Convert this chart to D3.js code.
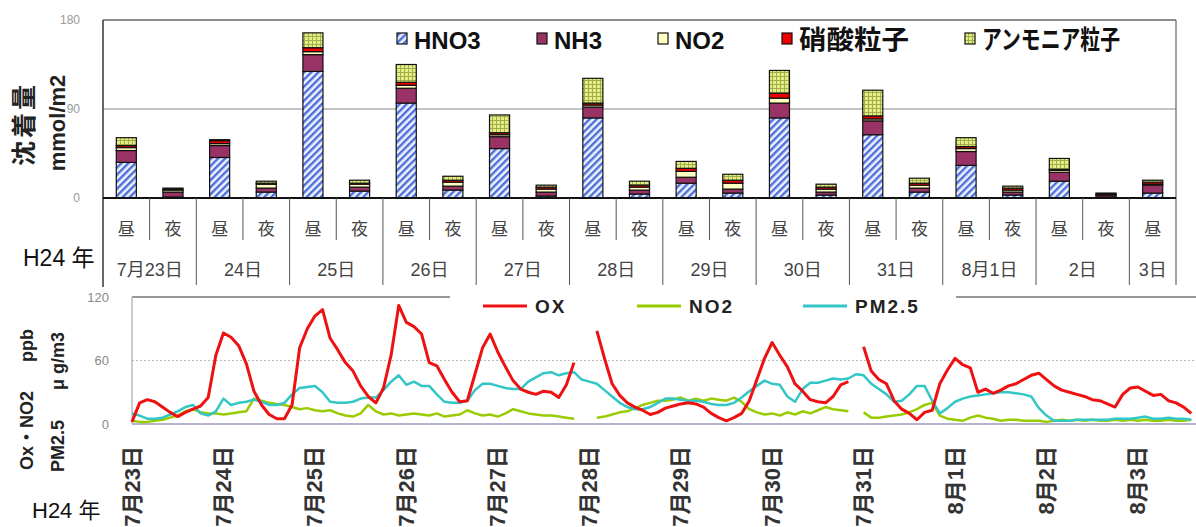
<!DOCTYPE html>
<html>
<head>
<meta charset="utf-8">
<script src="https://cdn.jsdelivr.net/npm/d3@7"></script>
<style>
body { margin: 0; background: #fff; }
svg { display: block; font-family: "Liberation Sans", "Noto Sans CJK JP", sans-serif; }
</style>
</head>
<body>
<svg id="chart" width="1196" height="527"></svg>
<script>
// ---- deposition (top chart) ----
var slots = ["昼","夜","昼","夜","昼","夜","昼","夜","昼","夜","昼","夜",
             "昼","夜","昼","夜","昼","夜","昼","夜","昼","夜","昼"];
var days = ["7月23日","24日","25日","26日","27日","28日","29日","30日","31日","8月1日","2日","3日"];
var depKeys = ["HNO3","NH3","NO2","硝酸粒子","アンモニア粒子"];
var hno3     = [36, 1, 41, 6, 128, 7, 96, 8, 50, 2, 81, 4, 15, 5, 81, 3, 64, 6, 33, 3, 17, 1, 5];
var nh3      = [12, 5, 12, 4, 17, 4, 15, 4, 12, 4, 11, 4, 6, 4, 15, 3, 14, 4, 14, 3, 9, 2, 8];
var no2Dep   = [3, 2, 2, 4, 3, 3, 3, 4, 2, 3, 2, 3, 6, 6, 5, 3, 2, 3, 3, 2, 2, 1, 1];
var nitrate  = [2, 1, 3, 1, 4, 1, 3, 2, 2, 2, 2, 2, 3, 3, 5, 2, 3, 2, 2, 2, 1, 1, 2];
var ammonium = [8, 1, 1, 2, 15, 3, 18, 4, 18, 2, 25, 4, 7, 6, 23, 3, 26, 5, 9, 2, 11, 0, 2];
var depTicks = [0, 90, 180];

// ---- concentrations (bottom chart), one value every 2 hours from 7/23 0:00 ----
var stepHours = 2;
var ox = [2,20,23,21,16,11,7,11,14,17,
  25,65,86,82,74,57,31,18,9,5,
  5,18,72,90,102,108,81,70,58,50,
  36,26,20,34,65,112,96,92,85,58,
  55,42,30,21,22,47,72,85,68,54,
  41,33,30,28,31,30,25,37,58,null,
  null,88,62,38,27,20,16,13,9,11,
  15,17,19,20,19,16,10,6,3,6,
  10,22,42,62,77,65,54,38,31,23,
  21,20,26,37,40,null,73,50,42,38,
  22,14,10,4,11,13,38,51,62,56,
  53,30,33,29,32,36,38,42,46,48,
  42,36,32,30,28,26,23,22,19,16,
  28,34,35,31,27,28,22,20,16,10];
var no2 = [3,2,2,3,4,6,8,12,14,11,
  10,10,9,10,11,12,24,22,20,19,
  18,16,14,15,13,12,13,10,8,7,
  10,18,12,9,10,8,9,10,9,8,
  10,7,8,9,13,10,8,9,7,10,
  14,12,10,9,8,8,7,6,5,null,
  null,6,7,9,11,12,15,18,20,22,
  22,23,25,22,24,22,24,23,22,25,
  21,14,11,9,10,8,11,9,12,10,
  13,16,14,13,12,null,11,6,6,7,
  8,9,11,14,18,20,8,5,4,3,
  6,8,6,5,3,4,4,3,3,3,
  2,3,4,3,4,3,4,3,3,4,
  3,4,3,4,3,3,4,3,3,4];
var pm25 = [10,8,5,5,6,9,12,16,18,10,
  8,12,24,18,20,21,23,21,18,18,
  20,28,34,35,36,30,21,20,20,21,
  24,25,25,32,40,46,37,40,36,36,
  28,21,20,20,22,32,38,38,36,34,
  33,33,40,44,48,49,46,48,49,42,
  40,38,32,26,20,16,14,14,16,20,
  24,24,23,22,22,21,19,18,18,20,
  25,31,36,41,38,37,26,21,33,39,
  39,41,43,42,43,47,46,38,33,28,
  21,22,28,36,36,22,10,15,21,24,
  26,27,28,29,30,30,29,28,26,15,
  8,3,3,3,4,4,4,4,4,5,
  5,5,6,7,5,5,6,5,5,4];
var dateLabels = ["7月23日","7月24日","7月25日","7月26日","7月27日","7月28日",
                  "7月29日","7月30日","7月31日","8月1日","8月2日","8月3日"];
var concTicks = [0, 60, 120];

var svg = d3.select("#chart");
var defs = svg.append("defs");

// hatch for HNO3
var hatch = defs.append("pattern").attr("id","hatch")
  .attr("patternUnits","userSpaceOnUse").attr("width",5).attr("height",5)
  .attr("patternTransform","rotate(45)");
hatch.append("rect").attr("width",5).attr("height",5).attr("fill","#eef2ff");
hatch.append("line").attr("x1",1.2).attr("y1",0).attr("x2",1.2).attr("y2",5)
  .attr("stroke","#4d6fd8").attr("stroke-width",2.4);

// small grid for ammonium particles
var grid = defs.append("pattern").attr("id","grid")
  .attr("patternUnits","userSpaceOnUse").attr("width",4).attr("height",4);
grid.append("rect").attr("width",4).attr("height",4).attr("fill","#e4ee84");
grid.append("path").attr("d","M0,0.5H4M0.5,0V4").attr("stroke","#a2ae4c").attr("stroke-width",1);

var depFill = {"HNO3":"url(#hatch)","NH3":"#993366","NO2":"#ffffc2",
               "硝酸粒子":"#ee0000","アンモニア粒子":"url(#grid)"};

// ================= top chart =================
var x = d3.scaleBand().domain(d3.range(slots.length))
  .range([103, 1176]).paddingInner(0.57).paddingOuter(0.285);
var y = d3.scaleLinear().domain([0, 180]).range([198, 20]);

var rows = slots.map(function(s, i) {
  return {"i": i, "HNO3": hno3[i], "NH3": nh3[i], "NO2": no2Dep[i],
          "硝酸粒子": nitrate[i], "アンモニア粒子": ammonium[i]};
});
var stacked = d3.stack().keys(depKeys)(rows);

svg.append("line").attr("x1",103).attr("x2",1176).attr("y1",y(90)).attr("y2",y(90))
  .attr("stroke","#888").attr("stroke-width",1);

stacked.forEach(function(layer) {
  svg.append("g").selectAll("rect").data(layer).enter().append("rect")
    .attr("x", function(d) { return x(d.data.i); })
    .attr("width", x.bandwidth())
    .attr("y", function(d) { return y(d[1]); })
    .attr("height", function(d) { return Math.max(0, y(d[0]) - y(d[1])); })
    .attr("fill", depFill[layer.key])
    .attr("stroke", "#111").attr("stroke-width", 1.2);
});

// frame
svg.append("line").attr("x1",103).attr("x2",1176).attr("y1",20).attr("y2",20)
  .attr("stroke","#666").attr("stroke-width",1.5);
svg.append("line").attr("x1",1176).attr("x2",1176).attr("y1",20).attr("y2",285)
  .attr("stroke","#666").attr("stroke-width",1.2);
svg.append("line").attr("x1",103).attr("x2",103).attr("y1",20).attr("y2",287)
  .attr("stroke","#333").attr("stroke-width",1.5);
svg.append("line").attr("x1",103).attr("x2",1176).attr("y1",y(0)).attr("y2",y(0))
  .attr("stroke","#111").attr("stroke-width",2);

// category separators
var step = x.step();
d3.range(1, slots.length).forEach(function(k) {
  var xx = 103 + step * k;
  svg.append("line").attr("x1",xx).attr("x2",xx).attr("y1",y(0))
    .attr("y2", k % 2 === 0 ? 285 : 240)
    .attr("stroke","#555").attr("stroke-width",1);
});

svg.append("g").selectAll("text").data(slots).enter().append("text")
  .attr("x", function(d, i) { return x(i) + x.bandwidth() / 2; })
  .attr("y", 229).attr("text-anchor","middle").attr("dominant-baseline","central")
  .attr("font-size", 17).attr("fill","#444")
  .text(function(d) { return d; });

svg.append("g").selectAll("text").data(days).enter().append("text")
  .attr("x", function(d, i) {
    var a = x(2 * i), b = x(Math.min(2 * i + 1, slots.length - 1));
    return (a + b) / 2 + x.bandwidth() / 2;
  })
  .attr("y", 270).attr("text-anchor","middle").attr("dominant-baseline","central")
  .attr("font-size", 18).attr("fill","#444")
  .text(function(d) { return d; });

// axis titles first so the tick labels sit on top
svg.append("text").attr("transform","translate(24,124) rotate(-90)")
  .attr("text-anchor","middle").attr("dominant-baseline","central")
  .attr("font-size", 25).attr("font-weight","bold").attr("letter-spacing",3).attr("fill","#222")
  .text("沈着量");
svg.append("text").attr("transform","translate(57,123) rotate(-90)")
  .attr("text-anchor","middle").attr("dominant-baseline","central")
  .attr("font-size", 22).attr("font-weight","bold").attr("fill","#222")
  .text("mmol/m2");

svg.append("g").selectAll("text").data(depTicks).enter().append("text")
  .attr("x", 80).attr("y", function(d) { return y(d); })
  .attr("text-anchor","end").attr("dominant-baseline","central")
  .attr("font-size", 12).attr("fill","#999")
  .text(function(d) { return d; });

svg.append("text").attr("x", 23).attr("y", 266).attr("font-size", 23).attr("fill","#111")
  .text("H24 年");

// legend (top)
var depLegendX = [397, 537, 658, 782, 965];
depKeys.forEach(function(k, i) {
  svg.append("rect").attr("x", depLegendX[i]).attr("y", 33).attr("width", 10).attr("height", 11)
    .attr("fill", depFill[k]).attr("stroke","#111").attr("stroke-width",1.2);
  var t = svg.append("text").attr("x", depLegendX[i] + 17).attr("y", 49)
    .attr("font-size", /[^\x00-\x7f]/.test(k) ? 26 : 24)
    .attr("font-weight","bold").attr("fill","#111").text(k);
  if (k === "アンモニア粒子") t.attr("textLength", 138).attr("lengthAdjust","spacingAndGlyphs");
  if (k === "硝酸粒子") t.attr("textLength", 110).attr("lengthAdjust","spacingAndGlyphs");
});

// ================= bottom chart =================
var xh = d3.scaleLinear().domain([0, 288]).range([132, 132 + 91.45 * 12]);
var yc = d3.scaleLinear().domain([0, 120]).range([424, 297]);

svg.append("line").attr("x1",132).attr("x2",1196).attr("y1",yc(60)).attr("y2",yc(60))
  .attr("stroke","#bbb").attr("stroke-width",1.2).attr("stroke-dasharray","2,2");
svg.append("line").attr("x1",132).attr("x2",1196).attr("y1",yc(120)).attr("y2",yc(120))
  .attr("stroke","#777").attr("stroke-width",1.5);
svg.append("line").attr("x1",132).attr("x2",132).attr("y1",yc(120)).attr("y2",yc(0))
  .attr("stroke","#aaa").attr("stroke-width",1.2);
svg.append("line").attr("x1",132).attr("x2",1196).attr("y1",yc(0)).attr("y2",yc(0))
  .attr("stroke","#b4b4cc").attr("stroke-width",2);

var line = d3.line()
  .defined(function(d) { return d != null; })
  .x(function(d, i) { return xh(i * stepHours); })
  .y(function(d) { return yc(d); });

var series = [
  {name: "NO2", values: no2, color: "#99cc00", width: 2.5},
  {name: "PM2.5", values: pm25, color: "#33c6c6", width: 2.5},
  {name: "OX", values: ox, color: "#ee1111", width: 3}
];
series.forEach(function(s) {
  svg.append("path").datum(s.values).attr("d", line)
    .attr("fill","none").attr("stroke", s.color).attr("stroke-width", s.width)
    .attr("stroke-linejoin","round");
});

// legend (bottom)
svg.append("rect").attr("x",450).attr("y",286).attr("width",506).attr("height",32).attr("fill","#fff");
var legendOrder = [series[2], series[0], series[1]];
var concLegendX = [483, 637, 803];
legendOrder.forEach(function(s, i) {
  svg.append("line").attr("x1", concLegendX[i]).attr("x2", concLegendX[i] + 44)
    .attr("y1", 306).attr("y2", 306).attr("stroke", s.color).attr("stroke-width", 3);
  svg.append("text").attr("x", concLegendX[i] + 52).attr("y", 313)
    .attr("font-size", 19).attr("font-weight","bold").attr("letter-spacing", 2).attr("fill","#222")
    .text(s.name);
});

svg.append("g").selectAll("text").data(concTicks).enter().append("text")
  .attr("x", 109).attr("y", function(d) { return yc(d); })
  .attr("text-anchor","end").attr("dominant-baseline","central")
  .attr("font-size", 13).attr("fill","#888")
  .text(function(d) { return d; });

svg.append("g").selectAll("text").data(dateLabels).enter().append("text")
  .attr("transform", function(d, i) { return "translate(" + xh(24 * i) + ",446) rotate(-90)"; })
  .attr("text-anchor","end").attr("dominant-baseline","central")
  .attr("font-size", 22).attr("font-weight","bold").attr("fill","#333")
  .text(function(d) { return d; });

svg.append("text").attr("transform","translate(27,470) rotate(-90)")
  .attr("dominant-baseline","central").attr("font-size", 18).attr("font-weight","bold").attr("fill","#222")
  .text("Ox・NO2");
svg.append("text").attr("transform","translate(27,362) rotate(-90)")
  .attr("dominant-baseline","central").attr("font-size", 18).attr("font-weight","bold").attr("fill","#222")
  .text("ppb");
svg.append("text").attr("transform","translate(58,472) rotate(-90)")
  .attr("dominant-baseline","central").attr("font-size", 18).attr("font-weight","bold").attr("fill","#222")
  .text("PM2.5");
svg.append("text").attr("transform","translate(58,390) rotate(-90)")
  .attr("dominant-baseline","central").attr("font-size", 18).attr("font-weight","bold").attr("fill","#222")
  .style("white-space","pre")
  .text("μ g/m3");

svg.append("text").attr("x", 32).attr("y", 518).attr("font-size", 22).attr("fill","#111")
  .text("H24 年");
</script>
</body>
</html>
